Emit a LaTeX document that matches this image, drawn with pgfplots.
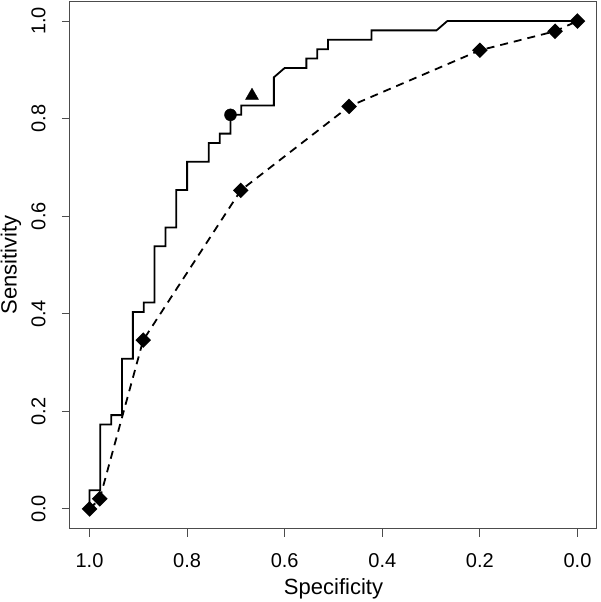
\documentclass[border=0pt]{standalone}
\usepackage{fontspec}
\setmainfont{Liberation Sans}
\usepackage{pgfplots}
\pgfplotsset{compat=1.18}
\begin{document}
\begin{tikzpicture}
\begin{axis}[
  scale only axis,
  width=527pt, height=527pt,
  x dir=reverse,
  xmin=-0.04, xmax=1.04, ymin=-0.04, ymax=1.04,
  xtick={0,0.2,0.4,0.6,0.8,1.0},
  ytick={0,0.2,0.4,0.6,0.8,1.0},
  xtick pos=bottom, ytick pos=left,
  /pgf/number format/assume math mode=true,
  /pgf/number format/.cd, fixed, fixed zerofill, precision=1, /pgfplots/.cd,
  tick align=outside,
  major tick length=8pt,
  axis line style={black!70, line width=1pt},
  every tick/.style={black!70, line width=1pt},
  tick label style={font=\fontsize{20}{24}\selectfont},
  xticklabel style={anchor=base},
  xticklabel shift={31pt},
  yticklabel style={rotate=90, anchor=base},
  yticklabel shift={16.7pt},
  xlabel={Specificity},
  ylabel={Sensitivity},
  label style={font=\fontsize{22}{26}\selectfont},
  xlabel style={at={(axis description cs:0.5,-0.1252)}, anchor=base},
  ylabel style={at={(axis description cs:-0.1011,0.5)}, anchor=base, rotate=0},
  clip=false,
]
\addplot[black, line width=1.8pt, mark=none] coordinates {
(1.0,0.0) (1.0,0.0385) (0.9778,0.0385) (0.9778,0.1731) (0.9556,0.1731) (0.9556,0.1923)
(0.9333,0.1923) (0.9333,0.3077) (0.9111,0.3077) (0.9111,0.4038) (0.8889,0.4038) (0.8889,0.4231)
(0.8667,0.4231) (0.8667,0.5385) (0.8444,0.5385) (0.8444,0.5769) (0.8222,0.5769) (0.8222,0.6538)
(0.8000,0.6538) (0.8000,0.7115) (0.7556,0.7115) (0.7556,0.7500) (0.7333,0.7500) (0.7333,0.7692)
(0.7111,0.7692) (0.7111,0.8077) (0.6889,0.8077) (0.6889,0.8269) (0.6222,0.8269) (0.6222,0.8846)
(0.6000,0.9038) (0.5556,0.9038) (0.5556,0.9231) (0.5333,0.9231) (0.5333,0.9423) (0.5111,0.9423)
(0.5111,0.9615) (0.4222,0.9615) (0.4222,0.9808) (0.2889,0.9808) (0.2667,1.0) (0.0,1.0)
};
\addplot[black, line width=1.8pt, dash pattern=on 8pt off 6pt, mark=square*, mark size=4.6pt,
  mark options={solid, fill=black, rotate=45}] coordinates {
(1.0,0.0) (0.979,0.021) (0.890,0.346) (0.690,0.653) (0.468,0.825) (0.200,0.940) (0.046,0.979) (0.0,1.0)
};
\addplot[only marks, black, mark=*, mark size=6pt] coordinates {(0.7111,0.8077)};
\addplot[only marks, black, mark=triangle*, mark size=7.5pt] coordinates {(0.667,0.847)};
\end{axis}
\pgfresetboundingbox
\path ([xshift=-70pt,yshift=-73.5pt]current axis.south west) rectangle ([xshift=3pt,yshift=1.5pt]current axis.north east);
\end{tikzpicture}
\end{document}
